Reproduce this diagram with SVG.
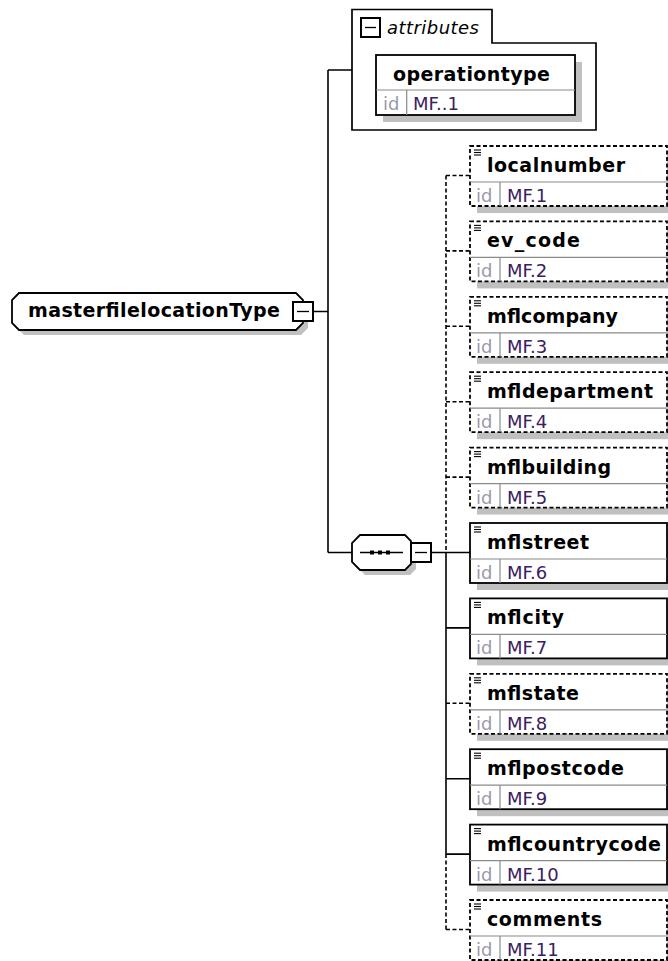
<svg xmlns="http://www.w3.org/2000/svg" width="668" height="961" viewBox="0 0 668 961">
<style>
.ln{stroke:#000;stroke-width:1.6;fill:none}
.dash{stroke-dasharray:4 2.5}
.box{fill:#fff;stroke:#000;stroke-width:1.8}
.shadow{fill:#c0c0c0;stroke:none}
.div{stroke:#8a8a8a;stroke-width:1.2}
.name{font-family:"DejaVu Sans",Verdana,sans-serif;font-weight:bold;font-size:19px;fill:#000}
.idl{font-family:"DejaVu Sans",Verdana,sans-serif;font-size:18px;fill:#9a9aaa}
.idv{font-family:"DejaVu Sans",Verdana,sans-serif;font-size:18px;fill:#3a2060}
.ital{font-family:"DejaVu Sans",Verdana,sans-serif;font-style:italic;font-size:18px;fill:#000}
.ico{stroke:#000;stroke-width:1.1}
</style>
<defs>
<g id="doc">
<line class="ico" x1="4" y1="4" x2="11" y2="4"/>
<line class="ico" x1="4" y1="6.5" x2="11" y2="6.5"/>
<line class="ico" x1="4" y1="9" x2="11" y2="9"/>
</g>
<rect id="sh" class="shadow" x="7" y="7" width="197" height="60"/>
</defs>

<g id="connectors">
<path class="ln" d="M313,311.5 H328 M328,70 V552.5 M328,70 H352 M328,552.5 H352 M431,552.5 H446"/>
<path class="ln dash" d="M446,175.5 V552.5 M446,854.1 V929.5"/>
<path class="ln" d="M446,552.5 V854.1"/>
<path class="ln dash" d="M446,175.5 H470 M446,250.9 H470 M446,326.3 H470 M446,401.7 H470 M446,477.1 H470 M446,703.3 H470 M446,929.5 H470"/>
<path class="ln" d="M446,552.5 H470 M446,627.9 H470 M446,778.7 H470 M446,854.1 H470"/>
</g>

<g id="root">
<polygon class="shadow" points="24,298 301,298 308,305 308,328 301,335 24,335 17,328 17,305"/>
<polygon class="box" points="19,293 296,293 303,300 303,323 296,330 19,330 12,323 12,300"/>
<text class="name" x="28" y="317" textLength="252">masterfilelocationType</text>
<rect x="293" y="302" width="20" height="19" fill="#fff" stroke="#000" stroke-width="2"/>
<line x1="297" y1="311.5" x2="309" y2="311.5" stroke="#000" stroke-width="1.3"/>
</g>

<g id="attributes">
<path d="M352,130 V9.5 H492 V43 H596 V130 Z" fill="#fff" stroke="#000" stroke-width="1.7"/>
<rect x="361" y="18" width="19" height="19" fill="#fff" stroke="#000" stroke-width="2"/>
<line x1="365" y1="27.5" x2="376" y2="27.5" stroke="#000" stroke-width="1.3"/>
<text class="ital" x="387" y="34" textLength="92">attributes</text>
<g id="operationtype">
<rect class="shadow" x="383" y="62" width="199" height="60"/>
<rect class="box" x="376" y="55" width="199" height="60"/>
<line class="div" x1="376" y1="90" x2="575" y2="90"/>
<line class="div" x1="406.7" y1="90" x2="406.7" y2="115"/>
<text class="name" x="393" y="81" textLength="157">operationtype</text>
<text class="idl" x="383" y="110">id</text>
<text class="idv" x="413" y="110">MF..1</text>
</g>
</g>

<g id="sequence">
<polygon class="shadow" points="365,540 410,540 416,546 416,569 410,575 365,575 357,567 357,548"/>
<polygon class="box" points="360,535 405,535 411,541 411,564 405,570 360,570 352,562 352,543"/>
<line x1="360" y1="552.5" x2="403" y2="552.5" stroke="#000" stroke-width="1.5"/>
<rect x="370" y="550.5" width="4" height="4" fill="#000"/>
<rect x="378" y="550.5" width="4" height="4" fill="#000"/>
<rect x="386" y="550.5" width="4" height="4" fill="#000"/>
<rect x="411" y="543" width="20" height="19" fill="#fff" stroke="#000" stroke-width="2"/>
<line x1="415" y1="552.5" x2="427" y2="552.5" stroke="#000" stroke-width="1.3"/>
</g>

<g id="localnumber" transform="translate(470,146)">
<use href="#sh"/>
<rect class="box dash" x="0" y="0" width="197" height="60"/>
<line class="div" x1="0" y1="36" x2="197" y2="36"/><line class="div" x1="30" y1="36" x2="30" y2="60"/>
<use href="#doc"/>
<text class="name" x="17" y="26" textLength="138">localnumber</text>
<text class="idl" x="6" y="56">id</text><text class="idv" x="37" y="56">MF.1</text>
</g>

<g id="ev_code" transform="translate(470,221.4)">
<use href="#sh"/>
<rect class="box dash" x="0" y="0" width="197" height="60"/>
<line class="div" x1="0" y1="36" x2="197" y2="36"/><line class="div" x1="30" y1="36" x2="30" y2="60"/>
<use href="#doc"/>
<text class="name" x="17" y="26" textLength="93">ev_code</text>
<text class="idl" x="6" y="56">id</text><text class="idv" x="37" y="56">MF.2</text>
</g>

<g id="mflcompany" transform="translate(470,296.8)">
<use href="#sh"/>
<rect class="box dash" x="0" y="0" width="197" height="60"/>
<line class="div" x1="0" y1="36" x2="197" y2="36"/><line class="div" x1="30" y1="36" x2="30" y2="60"/>
<use href="#doc"/>
<text class="name" x="17" y="26" textLength="131">mflcompany</text>
<text class="idl" x="6" y="56">id</text><text class="idv" x="37" y="56">MF.3</text>
</g>

<g id="mfldepartment" transform="translate(470,372.2)">
<use href="#sh"/>
<rect class="box dash" x="0" y="0" width="197" height="60"/>
<line class="div" x1="0" y1="36" x2="197" y2="36"/><line class="div" x1="30" y1="36" x2="30" y2="60"/>
<use href="#doc"/>
<text class="name" x="17" y="26" textLength="166">mfldepartment</text>
<text class="idl" x="6" y="56">id</text><text class="idv" x="37" y="56">MF.4</text>
</g>

<g id="mflbuilding" transform="translate(470,447.6)">
<use href="#sh"/>
<rect class="box dash" x="0" y="0" width="197" height="60"/>
<line class="div" x1="0" y1="36" x2="197" y2="36"/><line class="div" x1="30" y1="36" x2="30" y2="60"/>
<use href="#doc"/>
<text class="name" x="17" y="26" textLength="124">mflbuilding</text>
<text class="idl" x="6" y="56">id</text><text class="idv" x="37" y="56">MF.5</text>
</g>

<g id="mflstreet" transform="translate(470,523)">
<use href="#sh"/>
<rect class="box" x="0" y="0" width="197" height="60"/>
<line class="div" x1="0" y1="36" x2="197" y2="36"/><line class="div" x1="30" y1="36" x2="30" y2="60"/>
<use href="#doc"/>
<text class="name" x="17" y="26" textLength="102">mflstreet</text>
<text class="idl" x="6" y="56">id</text><text class="idv" x="37" y="56">MF.6</text>
</g>

<g id="mflcity" transform="translate(470,598.4)">
<use href="#sh"/>
<rect class="box" x="0" y="0" width="197" height="60"/>
<line class="div" x1="0" y1="36" x2="197" y2="36"/><line class="div" x1="30" y1="36" x2="30" y2="60"/>
<use href="#doc"/>
<text class="name" x="17" y="26" textLength="77">mflcity</text>
<text class="idl" x="6" y="56">id</text><text class="idv" x="37" y="56">MF.7</text>
</g>

<g id="mflstate" transform="translate(470,673.8)">
<use href="#sh"/>
<rect class="box dash" x="0" y="0" width="197" height="60"/>
<line class="div" x1="0" y1="36" x2="197" y2="36"/><line class="div" x1="30" y1="36" x2="30" y2="60"/>
<use href="#doc"/>
<text class="name" x="17" y="26" textLength="92">mflstate</text>
<text class="idl" x="6" y="56">id</text><text class="idv" x="37" y="56">MF.8</text>
</g>

<g id="mflpostcode" transform="translate(470,749.2)">
<use href="#sh"/>
<rect class="box" x="0" y="0" width="197" height="60"/>
<line class="div" x1="0" y1="36" x2="197" y2="36"/><line class="div" x1="30" y1="36" x2="30" y2="60"/>
<use href="#doc"/>
<text class="name" x="17" y="26" textLength="137">mflpostcode</text>
<text class="idl" x="6" y="56">id</text><text class="idv" x="37" y="56">MF.9</text>
</g>

<g id="mflcountrycode" transform="translate(470,824.6)">
<use href="#sh"/>
<rect class="box" x="0" y="0" width="197" height="60"/>
<line class="div" x1="0" y1="36" x2="197" y2="36"/><line class="div" x1="30" y1="36" x2="30" y2="60"/>
<use href="#doc"/>
<text class="name" x="17" y="26" textLength="174">mflcountrycode</text>
<text class="idl" x="6" y="56">id</text><text class="idv" x="37" y="56">MF.10</text>
</g>

<g id="comments" transform="translate(470,900)">
<use href="#sh"/>
<rect class="box dash" x="0" y="0" width="197" height="60"/>
<line class="div" x1="0" y1="36" x2="197" y2="36"/><line class="div" x1="30" y1="36" x2="30" y2="60"/>
<use href="#doc"/>
<text class="name" x="17" y="26" textLength="115">comments</text>
<text class="idl" x="6" y="56">id</text><text class="idv" x="37" y="56">MF.11</text>
</g>
</svg>
